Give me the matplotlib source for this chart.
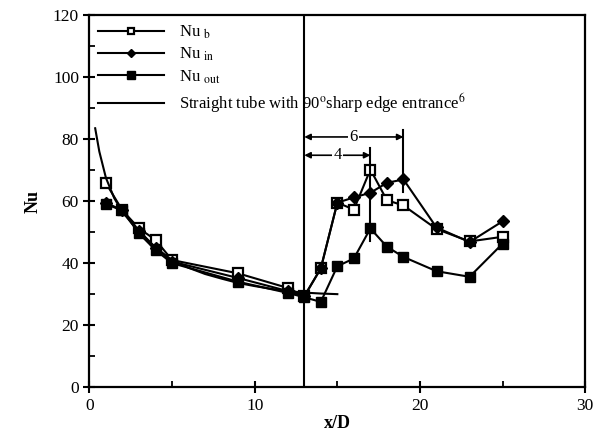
import matplotlib
matplotlib.use("Agg")
import matplotlib.pyplot as plt
from matplotlib.ticker import MultipleLocator

plt.rcParams['font.family'] = ['Liberation Serif', 'DejaVu Serif']
plt.rcParams['mathtext.fontset'] = 'stix'

# donnees
x_pts = [1, 2, 3, 4, 5, 9, 12, 13, 14, 15, 16, 17, 18, 19, 21, 23, 25]
nu_b = [65.8, 57, 51.2, 47.5, 41, 36.7, 32, 29.3, 38.3, 59.5, 57.3, 70.2, 60.3, 58.6, 51, 47, 48.5]
nu_in = [59.5, 57, 50.5, 45, 40.5, 35.2, 31, 29.3, 38.3, 59.5, 61.2, 62.7, 65.9, 67, 51.5, 46.8, 53.5]
nu_out = [59, 57, 49.6, 44.2, 40, 34, 30.4, 29, 27.5, 39, 41.5, 51.2, 45.3, 42, 37.4, 35.6, 46.3]

x_tube = [0.35, 0.6, 1, 1.5, 2, 3, 4, 5, 6, 7, 8, 9, 10, 11, 12, 13, 14, 15]
nu_tube = [83.5, 76, 67.5, 61, 56.5, 50, 45, 41, 38.5, 36.5, 35, 33.6, 32.6, 31.7, 31, 30.5, 30.2, 30]

x_entree = 13          # position de l'entree
pic_4 = 17             # fleche "4"
pic_6 = 19             # fleche "6"

fig = plt.figure(figsize=(5.96, 4.44), dpi=100)
ax = fig.add_axes([0.150, 0.128, 0.832, 0.838])

ax.plot(x_pts, nu_b, color='black', lw=1.5, marker='s', ms=6.5, mfc='white', mec='black', mew=1.6,
        label=r'Nu $_{\mathrm{b}}$')
ax.plot(x_pts, nu_in, color='black', lw=1.5, marker='D', ms=6, mfc='black', mec='black',
        label=r'Nu $_{\mathrm{in}}$')
ax.plot(x_pts, nu_out, color='black', lw=1.5, marker='s', ms=7, mfc='black', mec='black',
        label=r'Nu $_{\mathrm{out}}$')
ax.plot(x_tube, nu_tube, color='black', lw=1.5,
        label=r'Straight tube with 90$^{\mathrm{o}}$sharp edge entrance$^{6}$')

ax.axvline(x_entree, color='black', lw=1.5)

# reperes verticaux et fleches
ax.plot([pic_4, pic_4], [47, 77], color='black', lw=1.5)
ax.plot([pic_6, pic_6], [63, 83], color='black', lw=1.5)
ax.annotate('', xy=(x_entree, 80.7), xytext=(pic_6, 80.7),
            arrowprops=dict(arrowstyle='<|-|>', color='black', lw=1.2, mutation_scale=9, shrinkA=0, shrinkB=0))
ax.text((x_entree + pic_6) / 2, 80.7, '6', ha='center', va='center', fontsize=12,
        bbox=dict(facecolor='white', edgecolor='none', pad=1))
ax.annotate('', xy=(x_entree, 74.8), xytext=(pic_4, 74.8),
            arrowprops=dict(arrowstyle='<|-|>', color='black', lw=1.2, mutation_scale=9, shrinkA=0, shrinkB=0))
ax.text((x_entree + pic_4) / 2, 74.8, '4', ha='center', va='center', fontsize=12,
        bbox=dict(facecolor='white', edgecolor='none', pad=1))

ax.set_xlim(0, 30)
ax.set_ylim(0, 120)
ax.xaxis.set_major_locator(MultipleLocator(10))
ax.xaxis.set_minor_locator(MultipleLocator(5))
ax.yaxis.set_major_locator(MultipleLocator(20))
ax.yaxis.set_minor_locator(MultipleLocator(10))
ax.tick_params(which='major', direction='inout', length=8, width=1.5, labelsize=12.5)
ax.tick_params(which='minor', direction='in', length=4, width=1.3)
for s in ax.spines.values():
    s.set_linewidth(1.6)

ax.set_xlabel('x/D', fontsize=13, fontweight='bold', labelpad=1)
ax.set_ylabel('Nu', fontsize=13, fontweight='bold', labelpad=8)

leg = ax.legend(loc='upper left', frameon=False, fontsize=12, handlelength=4.0,
                handletextpad=0.9, labelspacing=0.3, borderaxespad=0.1, markerscale=0.75,
                bbox_to_anchor=(0.0, 1.0))

fig.savefig('out.png', dpi=100)
